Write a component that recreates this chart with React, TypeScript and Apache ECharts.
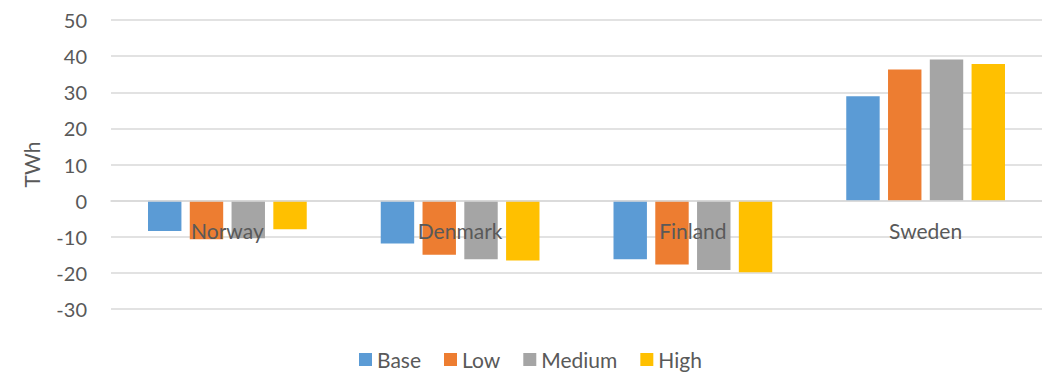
import React, { useEffect, useRef } from "react";
import * as echarts from "echarts";

const countries = ["Norway", "Denmark", "Finland", "Sweden"];
const seriesNames = ["Base", "Low", "Medium", "High"];
const baseValues = [-8.4, -11.9, -16.2, 28.9];
const lowValues = [-10.7, -15.0, -17.7, 36.3];
const mediumValues = [-10.4, -16.2, -19.2, 39.1];
const highValues = [-7.9, -16.6, -19.8, 37.8];
const colors = ["#5B9BD5", "#ED7D31", "#A5A5A5", "#FFC000"];

const FONT = "Lato, 'Noto Sans', sans-serif";
const TEXT = "#595959";
const GRID = "#D9D9D9";

export default function App() {
  const ref = useRef<HTMLDivElement>(null);

  useEffect(() => {
    if (!ref.current) return;
    const chart = echarts.init(ref.current, undefined, { renderer: "svg" });
    const values = [baseValues, lowValues, mediumValues, highValues];
    chart.setOption({
      animation: false,
      textStyle: { fontFamily: FONT },
      grid: { left: 111, width: 938, top: 20, bottom: 63, containLabel: false },
      legend: {
        data: seriesNames,
        left: 354,
        top: 344,
        itemWidth: 13,
        itemHeight: 13,
        itemGap: 23,
        icon: "rect",
        // the longer entry gets a slightly wider text box
        formatter: (name: string) => (name === "Medium" ? `{wide|${name}}` : name),
        textStyle: {
          color: TEXT,
          fontSize: 21,
          fontFamily: FONT,
          rich: { wide: { width: 84, color: TEXT, fontSize: 21, fontFamily: FONT } },
        },
      },
      xAxis: {
        type: "category",
        data: countries,
        // category axis sits on the zero line, labels drawn over the bars
        offset: -108,
        z: 5,
        axisLine: { show: true, onZero: false, lineStyle: { color: GRID, width: 1.5 } },
        axisTick: { show: false },
        axisLabel: { color: TEXT, fontSize: 21, margin: 19, fontFamily: FONT },
        splitLine: { show: false },
      },
      yAxis: {
        type: "value",
        min: -30,
        max: 50,
        interval: 10,
        name: "TWh",
        nameLocation: "middle",
        nameGap: 69,
        nameTextStyle: { color: TEXT, fontSize: 21, fontFamily: FONT },
        axisLine: { show: false },
        axisTick: { show: false },
        axisLabel: { color: TEXT, fontSize: 20, margin: 24, fontFamily: FONT },
        splitLine: { lineStyle: { color: GRID, width: 1.5 } },
      },
      series: seriesNames.map((name, i) => ({
        name,
        type: "bar",
        data: values[i],
        barGap: "25%",
        barCategoryGap: "31.8%",
        itemStyle: { color: colors[i] },
      })),
    });
    return () => chart.dispose();
  }, []);

  return (
    <div
      ref={ref}
      style={{ position: "fixed", left: 0, top: 0, width: 1042, height: 372, background: "#fff" }}
    />
  );
}
